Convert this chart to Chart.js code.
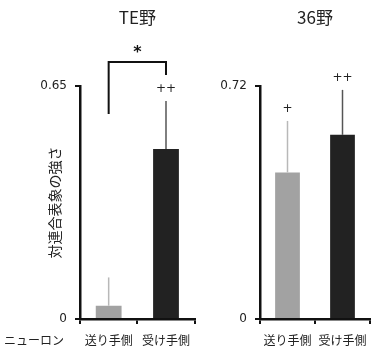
<!DOCTYPE html>
<html><head><meta charset="utf-8">
<script src="https://cdn.jsdelivr.net/npm/chart.js@4/dist/chart.umd.min.js"></script>
<style>
html,body{margin:0;padding:0;background:#fff;}
#wrap{position:relative;width:380px;height:356px;overflow:hidden;}
.box{position:absolute;top:0;height:356px;}
</style></head><body>
<div id="wrap">
<div class="box" style="left:0;width:200px"><canvas id="c1"></canvas></div>
<div class="box" style="left:200px;width:180px"><canvas id="c2"></canvas></div>
</div>
<script>
// ---- data ----
const categories = ['送り手側', '受け手側'];
const panelTitles = ['TE野', '36野'];
const teMeans = [0.037, 0.474];
const teErrors = [0.079, 0.134];
const teMarks = ['', '++'];
const a36Means = [0.453, 0.569];
const a36Errors = [0.159, 0.139];
const a36Marks = ['+', '++'];
const teAxisMax = 0.65;
const a36AxisMax = 0.72;
const yAxisTitle = '対連合表象の強さ';
const rowLabel = 'ニューロン';
const sigStar = '*';
const sigBracket = [0.572, 0.717, 0.681]; // left foot, top, right foot (data units)
const sigStarValue = 0.748;

const barColors = ['#a2a2a2', '#222222'];
const errColors = ['#b8b8b8', '#555555'];
const JP = '"Noto Sans CJK JP", "Noto Sans", sans-serif';
const NUM = '"DejaVu Sans", sans-serif';

const annotPlugin = {
  id: 'annot',
  afterDatasetsDraw(chart, args, o) {
    const ctx = chart.ctx;
    const meta = chart.getDatasetMeta(0);
    const y = chart.scales.y;
    const ca = chart.chartArea;
    ctx.save();
    // panel title
    ctx.fillStyle = '#222';
    ctx.font = '17px ' + JP;
    ctx.textAlign = 'center';
    ctx.textBaseline = 'middle';
    ctx.fillText(o.title, (ca.left + ca.right) / 2, 18);
    // error bars + marks
    o.errors.forEach((e, i) => {
      const bar = meta.data[i];
      const top = y.getPixelForValue(o.means[i] + e);
      ctx.strokeStyle = errColors[i];
      ctx.lineWidth = 1.5;
      ctx.beginPath();
      ctx.moveTo(bar.x, bar.y);
      ctx.lineTo(bar.x, top);
      ctx.stroke();
      if (o.marks[i]) {
        ctx.fillStyle = '#222';
        ctx.font = '12px ' + NUM;
        ctx.textAlign = 'center';
        ctx.textBaseline = 'middle';
        ctx.fillText(o.marks[i], bar.x, top - 12);
      }
    });
    if (o.bracket) {
      const x1 = meta.data[0].x, x2 = meta.data[1].x;
      ctx.strokeStyle = '#111';
      ctx.lineWidth = 2;
      ctx.beginPath();
      ctx.moveTo(x1, y.getPixelForValue(o.bracket[0]));
      ctx.lineTo(x1, y.getPixelForValue(o.bracket[1]));
      ctx.lineTo(x2, y.getPixelForValue(o.bracket[1]));
      ctx.lineTo(x2, y.getPixelForValue(o.bracket[2]));
      ctx.stroke();
      ctx.fillStyle = '#111';
      ctx.font = 'bold 16px ' + NUM;
      ctx.textAlign = 'center';
      ctx.textBaseline = 'middle';
      ctx.fillText(o.star, (x1 + x2) / 2, y.getPixelForValue(o.starValue) + 2);
    }
    if (o.rowLabel) {
      const xs = chart.scales.x;
      ctx.fillStyle = '#222';
      ctx.font = '12px ' + JP;
      ctx.textAlign = 'center';
      ctx.textBaseline = 'middle';
      ctx.fillText(o.rowLabel, 34, xs.top + 21);
    }
    ctx.restore();
  }
};

function makeChart(id, means, errors, marks, axisMax, title, yWidth, padRight, withYTitle, extra) {
  return new Chart(document.getElementById(id), {
    type: 'bar',
    data: {
      labels: categories,
      datasets: [{
        data: means,
        backgroundColor: barColors,
        borderWidth: 0,
        barPercentage: 0.45,
        categoryPercentage: 1.0
      }]
    },
    plugins: [annotPlugin],
    options: {
      responsive: true,
      maintainAspectRatio: false,
      animation: false,
      layout: { padding: { top: 86, right: padRight, left: 0, bottom: 0 } },
      plugins: {
        legend: { display: false },
        tooltip: { enabled: false },
        title: { display: false },
        annot: Object.assign({ title, means, errors, marks }, extra)
      },
      scales: {
        x: {
          ticks: { font: { family: JP, size: 12 }, color: '#222', padding: 9 },
          grid: { display: true, drawOnChartArea: false, drawTicks: true, tickLength: 5, color: '#111', lineWidth: 2, offset: true },
          border: { display: true, color: '#111', width: 2.5 },
          afterFit: s => { s.height = 37; }
        },
        y: {
          min: 0, max: axisMax,
          afterBuildTicks: s => { s.ticks = [{ value: 0 }, { value: axisMax }]; },
          ticks: { callback: v => String(v), font: { family: NUM, size: 12 }, color: '#222', padding: 8 },
          grid: { display: true, drawOnChartArea: false, drawTicks: true, tickLength: 5, color: '#111', lineWidth: 2 },
          border: { display: true, color: '#111', width: 2.5 },
          title: { display: withYTitle, text: yAxisTitle, font: { family: JP, size: 14 }, color: '#222', padding: { top: 46, bottom: 0 } },
          afterFit: s => { s.width = yWidth; }
        }
      }
    }
  });
}

makeChart('c1', teMeans, teErrors, teMarks, teAxisMax, panelTitles[0], 80, 4, true,
  { bracket: sigBracket, star: sigStar, starValue: sigStarValue, rowLabel: rowLabel });
makeChart('c2', a36Means, a36Errors, a36Marks, a36AxisMax, panelTitles[1], 60, 10, false, {});
</script>
</body></html>
